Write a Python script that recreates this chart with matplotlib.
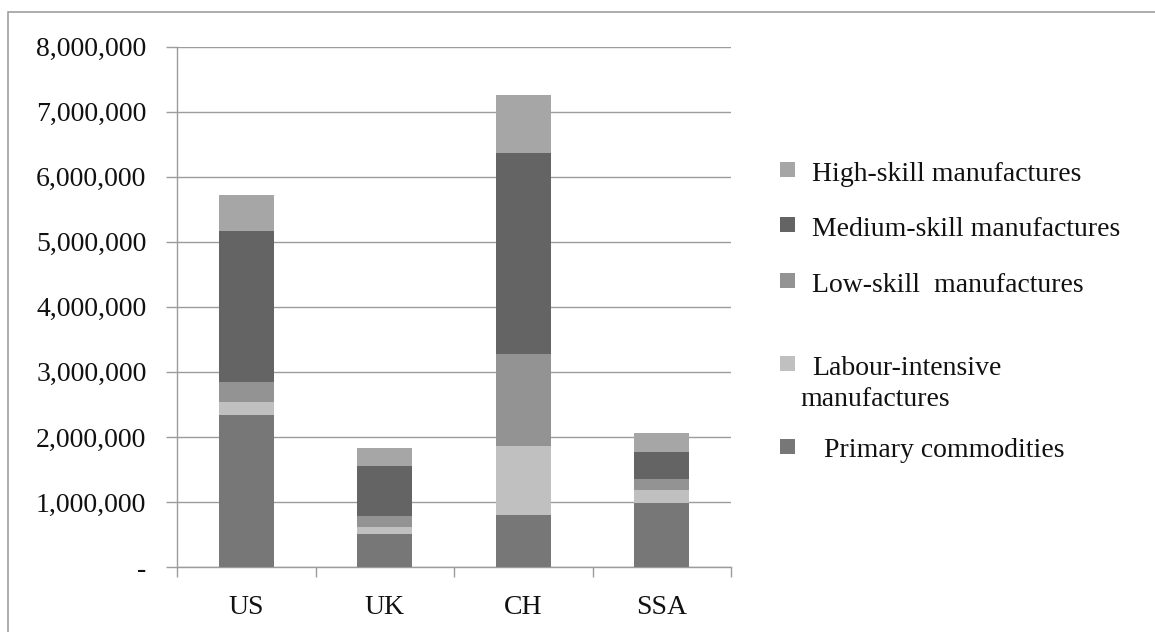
import matplotlib
matplotlib.use("Agg")
import matplotlib.pyplot as plt
from matplotlib.patches import Rectangle
from matplotlib.ticker import FuncFormatter
import numpy as np

# Exports by product category (stacked, bottom to top)
regions = ["US", "UK", "CH", "SSA"]
primary = [2340000, 515000, 800000, 990000]
labour = [200000, 100000, 1065000, 190000]
low_skill = [300000, 165000, 1405000, 180000]
medium_skill = [2330000, 770000, 3090000, 410000]
high_skill = [550000, 280000, 900000, 295000]

series_labels = ["Primary commodities", "Labour-intensive\nmanufactures",
                 "Low-skill  manufactures", "Medium-skill manufactures",
                 "High-skill manufactures"]
series_values = [primary, labour, low_skill, medium_skill, high_skill]
series_colors = ["#777777", "#c0c0c0", "#939393", "#646464", "#a6a6a6"]

W, H, DPI = 1155, 632, 100
FONT = "Liberation Serif"
GRID = "#9c9c9c"

fig = plt.figure(figsize=(W / DPI, H / DPI), dpi=DPI)
ax = fig.add_axes([177 / W, 1 - 567 / H, (731 - 177) / W, (567 - 46.7) / H])

x = np.arange(len(regions))
bottom = np.zeros(len(regions))
for vals, col in zip(series_values, series_colors):
    ax.bar(x, vals, width=0.4, bottom=bottom, color=col, edgecolor="none", zorder=3)
    bottom += np.array(vals)

ax.set_xlim(-0.5, len(regions) - 0.5)
ax.set_ylim(0, 8000000)
ax.set_yticks(np.arange(0, 8000001, 1000000))
ax.yaxis.set_major_formatter(FuncFormatter(lambda v, p: "-" if v == 0 else f"{int(v):,}"))
ax.grid(axis="y", color=GRID, linewidth=1.0, zorder=0)

ax.set_xticks(x)
ax.set_xticklabels(regions)
ax.set_xticks(np.arange(-0.5, len(regions), 1.0), minor=True)
ax.tick_params(axis="x", which="major", length=0, pad=20)
ax.tick_params(axis="x", which="minor", length=7, width=1.0, color=GRID, direction="out")
ax.tick_params(axis="y", length=8, width=1.0, color=GRID, direction="out", pad=14)

for lbl in ax.get_xticklabels() + ax.get_yticklabels():
    lbl.set_fontfamily(FONT)
    lbl.set_fontsize(20)
    lbl.set_color("#111111")

for side in ("top", "right"):
    ax.spines[side].set_visible(False)
for side in ("left", "bottom"):
    ax.spines[side].set_color(GRID)
    ax.spines[side].set_linewidth(1.0)

# Legend drawn in pixel coordinates of the figure, top entry first
def px(xp, yp):
    return xp / W, 1 - yp / H

legend_entries = list(zip(series_labels, series_colors))[::-1]
square_centers = [169.5, 224.5, 280.5, 363.3, 446.2]
baselines = [181, 236, 292, 374.7, 457]
text_x = [812, 812, 812, 812, 824]
for (label, col), sc, bl, tx in zip(legend_entries, square_centers, baselines, text_x):
    sx, sy = px(780, sc + 7.5)
    fig.patches.append(Rectangle((sx, sy), 15 / W, 15 / H, transform=fig.transFigure,
                                 facecolor=col, edgecolor="none"))
    lines = label.split("\n")
    for i, line in enumerate(lines):
        lx = tx if i == 0 else 800
        fx, fy = px(lx, bl + 31.6 * i)
        fig.text(fx, fy, line, ha="left", va="baseline", fontfamily=FONT,
                 fontsize=20, color="#111111")

# Chart area frame
fig.patches.append(Rectangle((8 / W, -0.05), 1.2, 1 - 12 / H + 0.05,
                             transform=fig.transFigure, fill=False,
                             edgecolor="#a0a0a0", linewidth=1.2))

fig.savefig("out.png", dpi=DPI)
